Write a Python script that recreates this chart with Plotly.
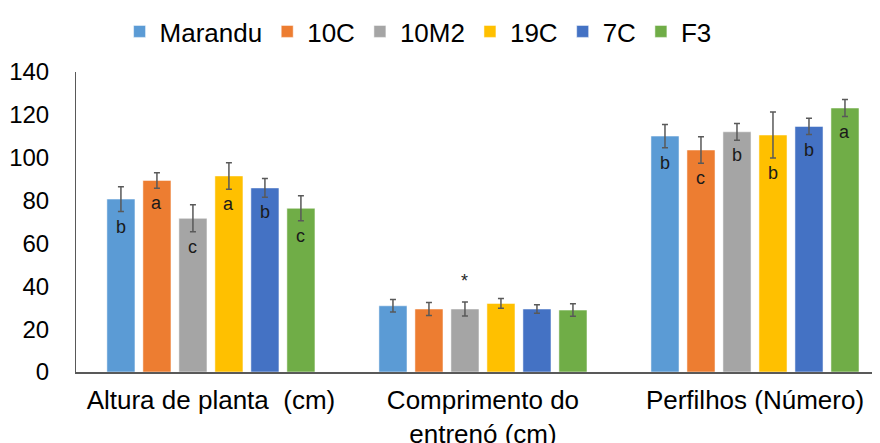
import plotly.graph_objects as go

categories = ["Altura de planta  (cm)", "Comprimento do<br>entrenó (cm)", "Perfilhos (Número)"]
series = ["Marandu", "10C", "10M2", "19C", "7C", "F3"]
colors = ["#5B9BD5", "#ED7D31", "#A5A5A5", "#FFC000", "#4472C4", "#70AD47"]

marandu = [80.7, 30.9, 110.1]
c10 = [89.4, 29.4, 103.6]
m10 = [71.7, 29.4, 112.1]
c19 = [91.5, 32.0, 110.6]
c7 = [85.9, 29.4, 114.6]
f3 = [76.4, 28.9, 123.2]

err_marandu = [5.8, 2.9, 5.4]
err_c10 = [3.6, 3.0, 6.2]
err_m10 = [6.3, 3.3, 3.9]
err_c19 = [6.2, 2.3, 10.7]
err_c7 = [4.4, 2.0, 3.8]
err_f3 = [5.8, 2.9, 4.0]

letters_marandu = ["b", "", "b"]
letters_c10 = ["a", "", "c"]
letters_m10 = ["c", "", "b"]
letters_c19 = ["a", "", "b"]
letters_c7 = ["b", "", "b"]
letters_f3 = ["c", "", "a"]

values = [marandu, c10, m10, c19, c7, f3]
errors = [err_marandu, err_c10, err_m10, err_c19, err_c7, err_f3]
letters = [letters_marandu, letters_c10, letters_m10, letters_c19, letters_c7, letters_f3]

FONT = "Liberation Sans, Arial"

fig = go.Figure()
for name, col, v, e in zip(series, colors, values, errors):
    fig.add_trace(go.Bar(
        name=name, x=categories, y=v,
        marker=dict(color=col, line=dict(color="rgba(255,255,255,0.5)", width=1)),
        error_y=dict(type="data", array=e, visible=True, color="#595959", thickness=1.5, width=3),
    ))

bargap = 0.206
slot = (1 - bargap) / len(series)
annotations = []
for i, (v, e, lab) in enumerate(zip(values, errors, letters)):
    off = (i - (len(series) - 1) / 2) * slot
    for j, (val, er, t) in enumerate(zip(v, e, lab)):
        if t:
            annotations.append(dict(
                x=j + off, y=val - er, xref="x", yref="y", text=t, showarrow=False,
                yanchor="middle", yshift=-15, font=dict(family=FONT, size=18, color="#1a1a1a"),
            ))
# asterisk above the internode group (between 10C and 10M2)
annotations.append(dict(
    x=1 - 0.5 * slot, y=c10[1] + err_c10[1], xref="x", yref="y", text="*", showarrow=False,
    yanchor="middle", yshift=22, font=dict(family=FONT, size=18, color="#262626"),
))

fig.update_layout(
    width=880, height=443,
    margin=dict(l=68, r=0, t=64, b=79),
    paper_bgcolor="white", plot_bgcolor="white",
    barmode="group", bargap=bargap, bargroupgap=0.22,
    font=dict(family=FONT, size=26, color="#000000"),
    legend=dict(orientation="h", x=0.466, xref="container", xanchor="center", y=1.0, yref="container",
                yanchor="top", font=dict(size=26), traceorder="normal", itemwidth=30),
    annotations=annotations,
    showlegend=True,
)
fig.update_xaxes(
    type="category", range=[-0.496, 2.489], showline=True, linecolor="#595959", linewidth=1.5,
    ticks="", showgrid=False, tickfont=dict(size=26), ticklabelstandoff=4, automargin=False,
)
fig.update_yaxes(
    range=[0, 140], dtick=20, showline=True, linecolor="#595959", linewidth=1,
    showgrid=False, ticks="", tickfont=dict(size=24), ticklabelstandoff=21, zeroline=False,
    automargin=False,
)

fig.write_html("out.html")
